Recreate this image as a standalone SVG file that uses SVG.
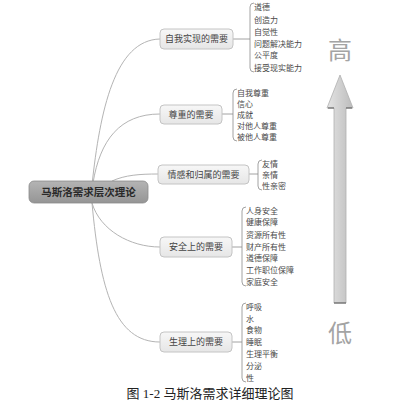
<svg xmlns="http://www.w3.org/2000/svg" width="407" height="413" viewBox="0 0 407 413">
<defs>
<linearGradient id="gc" x1="0" y1="0" x2="0" y2="1">
<stop offset="0" stop-color="#b4b4b4"/><stop offset="1" stop-color="#959595"/>
</linearGradient>
<linearGradient id="gn" x1="0" y1="0" x2="0" y2="1">
<stop offset="0" stop-color="#f7f7f7"/><stop offset="1" stop-color="#e6e6e6"/>
</linearGradient>
<linearGradient id="ga" x1="0" y1="0" x2="1" y2="0">
<stop offset="0" stop-color="#e4e4e4"/><stop offset="0.5" stop-color="#d0d0d0"/><stop offset="1" stop-color="#bcbcbc"/>
</linearGradient>
</defs>
<style>
text{font-family:"Noto Sans CJK SC","Noto Sans",sans-serif;}
.conn{fill:none;stroke:#b4b4b4;stroke-width:1;}
.br{fill:none;stroke:#8c8c8c;stroke-width:0.8;}
.box{fill:url(#gn);stroke:#c4c4c4;stroke-width:1;}
.lbl{font-size:9px;fill:#444;text-anchor:middle;}
.leaf{font-size:8px;fill:#4a4a4a;}
.big{font-size:24px;fill:#a4a4a4;text-anchor:middle;}
</style>
<rect width="407" height="413" fill="#ffffff"/>
<g id="connectors">
<path class="conn" d="M92,185 C100,110 115,40 160,39"/>
<path class="conn" d="M93,183 C100,140 120,114 160,114"/>
<path class="conn" d="M112,181 C125,175 140,174 158,174"/>
<path class="conn" d="M92,203 C100,230 130,247 160,247"/>
<path class="conn" d="M92,203 C100,290 115,342 160,342"/>
<path class="br" d="M233,39 H250 M254,3 Q250,3 250,7 V68 Q250,72 254,72"/>
<path class="br" d="M222,114 H233 M237,89 Q233,89 233,93 V137 Q233,141 237,141"/>
<path class="br" d="M249,174 H258 M262,160 Q258,160 258,164 V186 Q258,190 262,190"/>
<path class="br" d="M232,247 H242 M246,207 Q242,207 242,211 V282 Q242,286 246,286"/>
<path class="br" d="M232,342 H242 M246,303 Q242,303 242,307 V378 Q242,382 246,382"/>
</g>
<g id="center">
<rect x="29" y="181" width="119" height="22" rx="5" fill="url(#gc)" stroke="#8a8a8a" stroke-width="0.8"/>
<text x="88.5" y="196" font-size="10.5" font-weight="bold" fill="#2a2a2a" text-anchor="middle">马斯洛需求层次理论</text>
</g>
<g id="n1">
<rect class="box" x="160" y="29" width="73" height="20" rx="4"/>
<text class="lbl" x="196.5" y="42">自我实现的需要</text>
<text class="leaf" x="254" y="10">道德</text>
<text class="leaf" x="254" y="23">创造力</text>
<text class="leaf" x="254" y="35">自觉性</text>
<text class="leaf" x="254" y="47">问题解决能力</text>
<text class="leaf" x="254" y="58">公平度</text>
<text class="leaf" x="254" y="71">接受现实能力</text>
</g>
<g id="n2">
<rect class="box" x="160" y="105" width="62" height="19" rx="4"/>
<text class="lbl" x="191" y="117.5">尊重的需要</text>
<text class="leaf" x="237" y="96">自我尊重</text>
<text class="leaf" x="237" y="107">信心</text>
<text class="leaf" x="237" y="118">成就</text>
<text class="leaf" x="237" y="129">对他人尊重</text>
<text class="leaf" x="237" y="140">被他人尊重</text>
</g>
<g id="n3">
<rect class="box" x="158" y="165" width="91" height="19" rx="4"/>
<text class="lbl" x="203.5" y="177.5">情感和归属的需要</text>
<text class="leaf" x="262" y="167">友情</text>
<text class="leaf" x="262" y="178">亲情</text>
<text class="leaf" x="262" y="189">性亲密</text>
</g>
<g id="n4">
<rect class="box" x="160" y="237" width="72" height="20" rx="4"/>
<text class="lbl" x="196" y="250">安全上的需要</text>
<text class="leaf" x="246" y="214">人身安全</text>
<text class="leaf" x="246" y="225">健康保障</text>
<text class="leaf" x="246" y="238">资源所有性</text>
<text class="leaf" x="246" y="250">财产所有性</text>
<text class="leaf" x="246" y="261">道德保障</text>
<text class="leaf" x="246" y="273">工作职位保障</text>
<text class="leaf" x="246" y="285">家庭安全</text>
</g>
<g id="n5">
<rect class="box" x="160" y="332" width="72" height="20" rx="4"/>
<text class="lbl" x="196" y="345">生理上的需要</text>
<text class="leaf" x="246" y="310">呼吸</text>
<text class="leaf" x="246" y="322">水</text>
<text class="leaf" x="246" y="333">食物</text>
<text class="leaf" x="246" y="345">睡眠</text>
<text class="leaf" x="246" y="357">生理平衡</text>
<text class="leaf" x="246" y="369">分泌</text>
<text class="leaf" x="246" y="381">性</text>
</g>
<g id="arrow">
<text class="big" x="340" y="59">高</text>
<path d="M340,75 L353,108 L346,108 L346,303 L334,303 L334,108 L327,108 Z" fill="url(#ga)" stroke="#b0b0b0" stroke-width="0.8"/>
<path d="M328,108 H334 M346,108 H352 M334,303 H346" stroke="#555" stroke-width="1"/>
<text class="big" x="340" y="342">低</text>
</g>
<g id="caption">
<text x="210" y="398" font-size="13" fill="#222" text-anchor="middle" style="font-family:'Liberation Serif','Noto Sans CJK SC',serif">图 1-2 马斯洛需求详细理论图</text>
</g>
</svg>
